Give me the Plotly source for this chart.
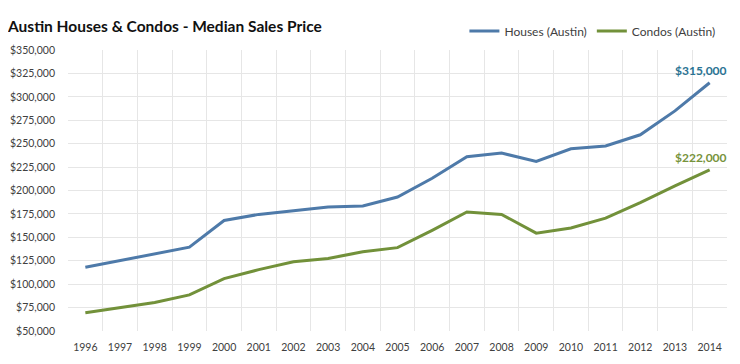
import plotly.graph_objects as go

years = list(range(1996, 2015))
houses = [118000, 125000, 132500, 139500, 168000, 174500, 178500, 182500, 183500, 193000,
          213000, 236000, 240000, 231000, 244500, 247500, 259500, 285000, 315000]
condos = [69500, 75000, 80500, 88500, 106000, 115500, 124000, 127500, 134500, 139000,
          157500, 177000, 174500, 154500, 160000, 170500, 187000, 205000, 222000]
y_ticks = list(range(50000, 350001, 25000))

house_color = "#4E7AA9"
condo_color = "#72913A"

fig = go.Figure()
fig.add_trace(go.Scatter(x=years, y=houses, mode="lines", name="Houses (Austin)",
                         line=dict(color=house_color, width=3)))
fig.add_trace(go.Scatter(x=years, y=condos, mode="lines", name="Condos (Austin)",
                         line=dict(color=condo_color, width=3)))

fig.add_annotation(x=years[-1], y=houses[-1], text="<b>$315,000</b>", showarrow=False,
                   yshift=12, xshift=-9, font=dict(color="#2A7393", size=12, family="Lato"))
fig.add_annotation(x=years[-1], y=condos[-1], text="<b>$222,000</b>", showarrow=False,
                   yshift=12, xshift=-9, font=dict(color="#77933C", size=12, family="Lato"))

boundaries = [y - 0.5 for y in years] + [years[-1] + 0.5]

# the page body adds an 8px offset, so the figure is 8px smaller and margins compensate
fig.update_layout(
    width=732, height=356,
    margin=dict(l=60, r=13, t=42, b=33, autoexpand=False),
    paper_bgcolor="white", plot_bgcolor="white",
    font=dict(family="Lato", size=10.5, color="#404040"),
    title=dict(text="<b>Austin Houses & Condos - Median Sales Price</b>",
               x=0, xanchor="left", y=0.947, yanchor="middle", pad=dict(l=0),
               font=dict(size=15.5, color="#111111", family="Lato")),
    legend=dict(orientation="h", x=0.99, xanchor="right", y=1.068, yanchor="middle",
                font=dict(size=12, color="#404040"), itemwidth=30, tracegroupgap=0,
                bgcolor="rgba(0,0,0,0)"),
    showlegend=True,
)
fig.update_xaxes(range=[years[0] - 0.5, years[-1] + 0.5], tickvals=years,
                 showgrid=False, ticks="", showline=False, zeroline=False, automargin=False,
                 tickfont=dict(size=10.5), ticklabelstandoff=8,
                 minor=dict(tickvals=boundaries, showgrid=True, gridcolor="#E6E6E6", ticks=""))
fig.update_yaxes(range=[50000, 350000], tickvals=y_ticks, tickformat="$,d",
                 showgrid=True, gridcolor="#E6E6E6", zeroline=False, showline=False,
                 automargin=False, tickfont=dict(size=10.5),
                 ticks="", ticklabelstandoff=12)

fig.write_html("out.html")
